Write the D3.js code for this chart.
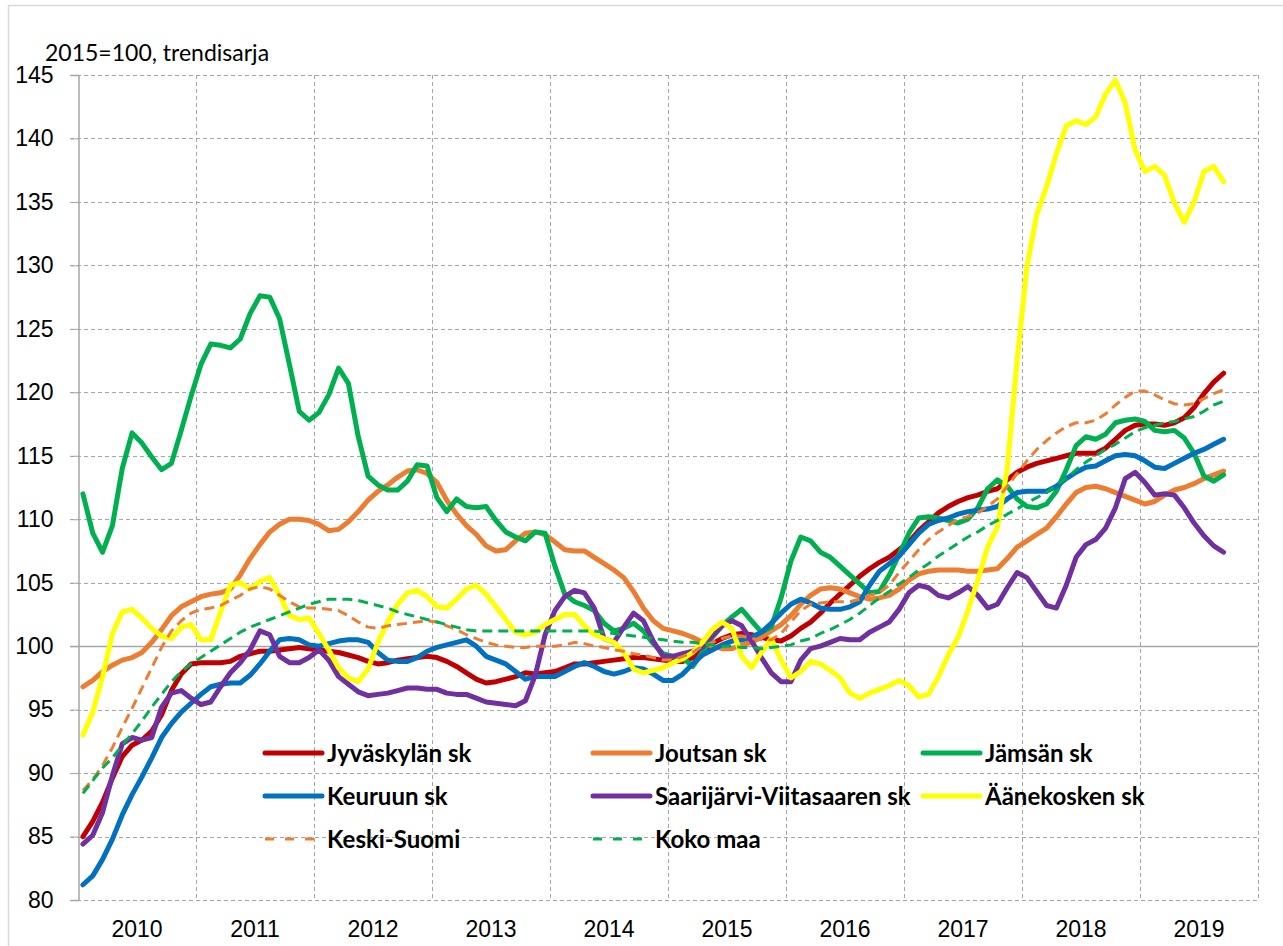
<!DOCTYPE html>
<html>
<head>
<meta charset="utf-8">
<script src="https://cdn.jsdelivr.net/npm/d3@7"></script>
<style>
  body { margin: 0; background: #fff; }
  svg { display: block; font-family: Lato, "Open Sans", sans-serif; }
  .axis-text { font-size: 23px; fill: #000; }
  .legend-label { font-size: 24px; font-weight: bold; fill: #000; }
  .grid line { stroke: #a6a6a6; stroke-width: 1; stroke-dasharray: 4,3; }
</style>
</head>
<body>
<svg id="chart" width="1283" height="946"></svg>
<script>
const YEARS = [2010, 2011, 2012, 2013, 2014, 2015, 2016, 2017, 2018, 2019];
const Y_TICKS = [80, 85, 90, 95, 100, 105, 110, 115, 120, 125, 130, 135, 140, 145];
const UNIT_LABEL = "2015=100, trendisarja";

// monthly trend values, Jan 2010 - Sep 2019
const jyvaskyla = [
  85.0, 86.2, 87.7, 89.6, 91.3, 92.2, 92.6, 93.3, 94.6, 96.5, 97.8, 98.6,
  98.7, 98.7, 98.7, 98.8, 99.2, 99.4, 99.6, 99.6, 99.7, 99.8, 99.9, 99.8,
  99.7, 99.6, 99.5, 99.3, 99.1, 98.8, 98.6, 98.7, 98.9, 99.0, 99.1, 99.2,
  99.1, 98.8, 98.4, 97.9, 97.4, 97.1, 97.2, 97.4, 97.6, 97.9, 97.8, 97.9,
  98.0, 98.3, 98.6, 98.6, 98.7, 98.8, 98.9, 99.0, 99.1, 99.1, 99.0, 98.9,
  98.8, 98.8, 99.1, 99.6, 100.2, 100.6, 100.9, 101.0, 100.9, 100.7, 100.5, 100.4,
  100.8, 101.4, 101.9, 102.6, 103.4, 104.1, 104.8, 105.5, 106.1, 106.6, 107.0, 107.6,
  108.2, 109.1, 109.8, 110.5, 111.0, 111.4, 111.7, 111.9, 112.2, 112.4, 113.1, 113.7,
  114.1, 114.4, 114.6, 114.8, 115.0, 115.2, 115.2, 115.2, 115.6, 116.3, 117.0, 117.4,
  117.5, 117.5, 117.4, 117.6, 118.0, 118.8, 119.9, 120.8, 121.5
];
const joutsa = [
  96.8, 97.3, 98.0, 98.5, 98.9, 99.1, 99.5, 100.3, 101.3, 102.4, 103.1, 103.5,
  103.9, 104.1, 104.2, 104.5, 105.6, 106.9, 108.0, 109.0, 109.6, 110.0, 110.0, 109.9,
  109.6, 109.1, 109.2, 109.8, 110.6, 111.5, 112.2, 112.7, 113.3, 113.8, 113.9, 113.6,
  112.9, 111.5, 110.4, 109.5, 108.8, 107.9, 107.5, 107.6, 108.3, 108.9, 109.0, 108.8,
  108.2, 107.6, 107.5, 107.5, 107.0, 106.5, 106.0, 105.4, 104.3, 103.0, 102.0, 101.4,
  101.2, 101.0, 100.7, 100.3, 100.0, 99.8, 99.8, 100.1, 100.3, 100.7, 101.2, 101.7,
  102.4, 103.3, 104.0, 104.5, 104.6, 104.5, 104.2, 103.9, 103.7, 103.8, 104.0, 104.5,
  105.2, 105.7, 105.9, 106.0, 106.0, 106.0, 105.9, 105.9, 106.0, 106.1, 106.9, 107.8,
  108.3, 108.8, 109.3, 110.2, 111.2, 112.1, 112.5, 112.6, 112.4, 112.1, 111.8, 111.5,
  111.2, 111.4, 111.9, 112.3, 112.5, 112.8, 113.2, 113.5, 113.8
];
const jamsa = [
  112.0, 108.9, 107.4, 109.5, 114.0, 116.8, 116.0, 114.9, 113.9, 114.4, 117.0, 119.7,
  122.2, 123.8, 123.7, 123.5, 124.2, 126.2, 127.6, 127.5, 125.8, 122.2, 118.5, 117.8,
  118.4, 119.8, 121.9, 120.7, 116.5, 113.4, 112.7, 112.3, 112.3, 113.0, 114.3, 114.2,
  111.7, 110.6, 111.6, 111.0, 110.9, 111.0, 109.9, 109.0, 108.6, 108.3, 109.0, 108.9,
  106.3, 104.1, 103.5, 103.2, 102.8, 101.8, 101.2, 101.4, 101.8, 101.2, 100.2, 99.4,
  99.2, 99.1, 98.4, 99.5, 100.7, 101.6, 102.3, 102.9, 102.0, 101.1, 101.5, 103.8,
  106.7, 108.6, 108.3, 107.4, 107.0, 106.3, 105.6, 104.9, 104.2, 104.3, 105.6, 107.2,
  108.9, 110.1, 110.2, 110.1, 109.9, 109.7, 110.0, 110.9, 112.4, 113.1, 112.6, 111.6,
  111.0, 110.9, 111.2, 112.2, 113.9, 115.8, 116.5, 116.3, 116.7, 117.6, 117.8, 117.9,
  117.7, 117.0, 116.9, 117.0, 116.4, 115.2, 113.4, 113.0, 113.5
];
const keuruu = [
  81.2, 81.9, 83.2, 84.8, 86.7, 88.3, 89.7, 91.2, 92.8, 93.9, 94.8, 95.5,
  96.2, 96.8, 97.0, 97.1, 97.1, 97.7, 98.6, 99.6, 100.5, 100.6, 100.5, 100.1,
  100.0, 100.2, 100.4, 100.5, 100.5, 100.3, 99.5, 98.9, 98.8, 98.8, 99.1, 99.6,
  99.9, 100.1, 100.3, 100.5, 100.0, 99.2, 98.9, 98.6, 98.0, 97.4, 97.6, 97.6,
  97.6, 98.0, 98.4, 98.7, 98.4, 98.0, 97.8, 98.0, 98.3, 98.2, 97.8, 97.3,
  97.3, 97.8, 98.6, 99.3, 99.7, 100.1, 100.4, 100.5, 100.7, 101.1, 101.8, 102.6,
  103.3, 103.7, 103.4, 103.0, 102.9, 102.9, 103.1, 103.5, 104.8, 105.9, 106.5, 107.1,
  108.0, 108.9, 109.6, 109.9, 110.1, 110.4, 110.6, 110.7, 110.8, 111.0, 111.6, 112.1,
  112.2, 112.2, 112.2, 112.6, 113.2, 113.7, 114.1, 114.2, 114.6, 115.0, 115.1, 115.0,
  114.6, 114.1, 114.0, 114.4, 114.8, 115.2, 115.5, 115.9, 116.3
];
const saarijarvi = [
  84.4, 85.1, 86.9, 89.8, 92.3, 92.8, 92.6, 92.8, 95.2, 96.3, 96.5, 95.9,
  95.4, 95.6, 96.8, 97.9, 98.7, 99.7, 101.2, 100.9, 99.2, 98.7, 98.7, 99.1,
  99.7, 98.9, 97.6, 97.0, 96.4, 96.1, 96.2, 96.3, 96.5, 96.7, 96.7, 96.6,
  96.6, 96.3, 96.2, 96.2, 95.9, 95.6, 95.5, 95.4, 95.3, 95.7, 97.7, 100.9,
  102.8, 103.9, 104.4, 104.2, 103.0, 100.6, 100.3, 101.5, 102.6, 102.0, 100.4, 99.2,
  99.2, 99.4, 99.6, 99.9, 100.8, 101.6, 102.0, 101.6, 100.4, 99.1, 97.9, 97.2,
  97.2, 98.9, 99.8, 100.0, 100.3, 100.6, 100.5, 100.5, 101.1, 101.5, 101.9, 102.9,
  104.2, 104.8, 104.6, 104.0, 103.8, 104.2, 104.7, 104.0, 103.0, 103.3, 104.6, 105.8,
  105.4, 104.3, 103.2, 103.0, 104.8, 107.0, 108.0, 108.4, 109.3, 110.9, 113.2, 113.7,
  112.9, 111.9, 112.0, 111.9, 110.9, 109.7, 108.7, 107.9, 107.4
];
const aanekoski = [
  93.0, 94.8, 97.6, 101.0, 102.7, 102.9, 102.2, 101.4, 100.8, 100.6, 101.5, 101.7,
  100.5, 100.5, 102.7, 104.8, 105.0, 104.5, 105.1, 105.4, 104.0, 102.4, 102.1, 102.2,
  101.0, 99.7, 98.3, 97.5, 97.2, 98.2, 100.3, 101.9, 103.3, 104.2, 104.4, 103.9,
  103.1, 103.0, 103.7, 104.5, 104.8, 104.1, 103.1, 102.1, 101.1, 100.9, 101.1, 101.7,
  102.1, 102.5, 102.5, 101.6, 100.9, 100.6, 100.3, 99.5, 98.2, 97.9, 98.1, 98.3,
  98.7, 99.0, 99.5, 100.3, 101.3, 101.9, 101.4, 99.2, 98.3, 99.5, 100.6, 98.9,
  97.5, 98.0, 98.8, 98.6, 98.1, 97.5, 96.3, 95.9, 96.3, 96.6, 96.9, 97.3,
  96.9, 96.0, 96.2, 97.6, 99.3, 100.7, 102.8, 105.2, 107.8, 109.4, 114.0, 122.5,
  129.9, 134.0, 136.2, 138.8, 141.0, 141.4, 141.1, 141.7, 143.5, 144.6, 142.8, 139.1,
  137.4, 137.8, 137.1, 134.9, 133.4, 135.0, 137.4, 137.8, 136.6
];
const keskiSuomi = [
  88.6, 89.5, 90.6, 92.0, 93.6, 95.1, 96.7, 98.3, 99.9, 101.2, 102.0, 102.6,
  102.9, 103.0, 103.2, 103.6, 104.0, 104.5, 104.7, 104.5, 104.0, 103.5, 103.1, 103.0,
  103.0, 102.9, 102.8, 102.4, 101.9, 101.5, 101.4, 101.6, 101.7, 101.8, 101.9, 102.0,
  101.9, 101.6, 101.3, 100.9, 100.6, 100.3, 100.1, 100.0, 99.9, 99.9, 100.0, 100.0,
  100.0, 100.1, 100.3, 100.2, 100.0, 99.9, 99.7, 99.6, 99.4, 99.3, 99.1, 98.9,
  98.9, 99.2, 99.5, 100.0, 100.3, 100.6, 100.8, 100.8, 100.6, 100.5, 100.5, 101.0,
  101.9, 102.8, 103.3, 103.4, 103.5, 103.5, 103.5, 103.7, 104.0, 104.2, 104.8, 105.8,
  106.7, 107.6, 108.4, 109.0, 109.5, 110.0, 110.2, 110.5, 111.0, 111.6, 112.6, 113.6,
  114.6, 115.5, 116.2, 116.8, 117.3, 117.6, 117.6, 117.8, 118.3, 119.0, 119.6, 120.1,
  120.1, 119.8, 119.4, 119.1, 119.0, 119.1, 119.5, 119.9, 120.2
];
const kokoMaa = [
  88.4, 89.4, 90.4, 91.2, 92.2, 93.1, 94.1, 95.2, 96.2, 97.2, 98.0, 98.6,
  99.1, 99.6, 100.1, 100.6, 101.1, 101.5, 101.8, 102.1, 102.4, 102.7, 103.0, 103.3,
  103.5, 103.7, 103.7, 103.7, 103.6, 103.4, 103.2, 103.0, 102.7, 102.5, 102.3, 102.1,
  101.9, 101.7, 101.5, 101.3, 101.2, 101.2, 101.2, 101.2, 101.2, 101.2, 101.2, 101.2,
  101.2, 101.2, 101.2, 101.2, 101.2, 101.1, 101.0, 100.9, 100.8, 100.7, 100.6, 100.5,
  100.4, 100.3, 100.3, 100.2, 100.1, 100.0, 100.0, 99.9, 99.9, 99.8, 99.9, 100.0,
  100.1, 100.4, 100.6, 101.0, 101.3, 101.7, 102.1, 102.6, 103.2, 103.8, 104.3, 104.9,
  105.4, 106.0, 106.5, 107.1, 107.6, 108.1, 108.6, 109.0, 109.5, 109.9, 110.4, 110.8,
  111.3, 111.7, 112.1, 112.7, 113.2, 113.9, 114.5, 115.0, 115.5, 115.9, 116.4, 116.9,
  117.2, 117.4, 117.6, 117.7, 117.9, 118.1, 118.5, 119.0, 119.3
];

const SERIES_NAMES = [
  "Jyväskylän sk", "Joutsan sk", "Jämsän sk",
  "Keuruun sk", "Saarijärvi-Viitasaaren sk", "Äänekosken sk",
  "Keski-Suomi", "Koko maa"
];
const SERIES_VALUES = [jyvaskyla, joutsa, jamsa, keuruu, saarijarvi, aanekoski, keskiSuomi, kokoMaa];
const SERIES_COLORS = ["#c00000", "#ed7d31", "#00b050", "#0070c0", "#7030a0", "#ffff00", "#ed7d31", "#00b050"];
const SERIES_DASHED = [false, false, false, false, false, false, true, true];

const series = SERIES_NAMES.map((name, k) => ({
  name,
  values: SERIES_VALUES[k],
  color: SERIES_COLORS[k],
  dashed: SERIES_DASHED[k]
}));

const svg = d3.select("#chart");
const margin = { top: 75, right: 25, bottom: 46, left: 78 };
const width = 1283;
const height = 946;
const plotRight = width - margin.right;
const plotBottom = height - margin.bottom;

// outer chart frame
svg.append("rect")
  .attr("x", 8.5).attr("y", 5.5)
  .attr("width", width + 10).attr("height", height + 10)
  .attr("fill", "none").attr("stroke", "#d9d9d9").attr("stroke-width", 1.5);

const months = d3.range(YEARS.length * 12);
const x = d3.scaleBand().domain(months).range([margin.left, plotRight]);
const xYear = d3.scaleBand().domain(YEARS).range([margin.left, plotRight]);
const y = d3.scaleLinear().domain([80, 145]).range([plotBottom, margin.top]);

// horizontal gridlines (dashed), the 100 line drawn solid as the category axis
svg.append("g")
  .attr("class", "grid")
  .selectAll("line")
  .data(Y_TICKS.filter((t) => t !== 100))
  .join("line")
  .attr("x1", margin.left - 8)
  .attr("x2", plotRight)
  .attr("y1", (t) => Math.round(y(t)) + 0.5)
  .attr("y2", (t) => Math.round(y(t)) + 0.5);

// vertical gridlines at year boundaries
svg.append("g")
  .attr("class", "grid")
  .selectAll("line")
  .data(YEARS.slice(1).concat([YEARS[YEARS.length - 1] + 1]))
  .join("line")
  .attr("x1", (yr) => Math.round(xYear(yr - 1) + xYear.bandwidth()) + 0.5)
  .attr("x2", (yr) => Math.round(xYear(yr - 1) + xYear.bandwidth()) + 0.5)
  .attr("y1", margin.top)
  .attr("y2", plotBottom);

// solid axis at 100
svg.append("line")
  .attr("x1", margin.left - 8).attr("x2", plotRight)
  .attr("y1", Math.round(y(100)) + 0.5).attr("y2", Math.round(y(100)) + 0.5)
  .attr("stroke", "#a6a6a6").attr("stroke-width", 1.3);

// y axis
const yAxis = svg.append("g")
  .attr("transform", `translate(${margin.left + 0.5}, 0)`)
  .call(d3.axisLeft(y).tickValues(Y_TICKS).tickSize(8).tickPadding(17));
yAxis.select(".domain").attr("stroke", "#a6a6a6").attr("stroke-width", 1.5);
yAxis.selectAll(".tick line").attr("stroke", "#a6a6a6");
yAxis.selectAll(".tick text").attr("class", "axis-text").attr("font-family", null).attr("font-size", null);

// year labels
const xAxis = svg.append("g")
  .attr("transform", `translate(0, ${plotBottom})`)
  .call(d3.axisBottom(xYear).tickSize(0).tickPadding(21));
xAxis.select(".domain").remove();
xAxis.selectAll(".tick text").attr("class", "axis-text").attr("font-family", null).attr("font-size", null);

// unit label
svg.append("text")
  .attr("class", "axis-text")
  .attr("x", 45)
  .attr("y", 61)
  .text(UNIT_LABEL);

// series lines
const line = d3.line()
  .x((v, i) => x(i) + x.bandwidth() / 2)
  .y((v) => y(v));

svg.append("g")
  .selectAll("path")
  .data(series)
  .join("path")
  .attr("d", (s) => line(s.values))
  .attr("fill", "none")
  .attr("stroke", (s) => s.color)
  .attr("stroke-width", (s) => (s.dashed ? 3 : 5))
  .attr("stroke-dasharray", (s) => (s.dashed ? "10,6" : null))
  .attr("stroke-linejoin", "round")
  .attr("stroke-linecap", (s) => (s.dashed ? "butt" : "round"));

// legend, three columns
const legendCols = [265, 593, 923];
const legendRows = [753, 796, 839];
const legendLen = 57;

const legend = svg.append("g")
  .selectAll("g")
  .data(series)
  .join("g")
  .attr("transform", (s, k) => `translate(${legendCols[k % 3]}, ${legendRows[Math.floor(k / 3)]})`);

legend.append("line")
  .attr("x1", 0).attr("x2", legendLen)
  .attr("y1", 0).attr("y2", 0)
  .attr("stroke", (s) => s.color)
  .attr("stroke-width", (s) => (s.dashed ? 3 : 5))
  .attr("stroke-dasharray", (s) => (s.dashed ? "9,11" : null))
  .attr("stroke-linecap", (s) => (s.dashed ? "butt" : "round"));

legend.append("text")
  .attr("class", "legend-label")
  .attr("x", legendLen + 5)
  .attr("dy", "0.36em")
  .text((s) => s.name);
</script>
</body>
</html>
